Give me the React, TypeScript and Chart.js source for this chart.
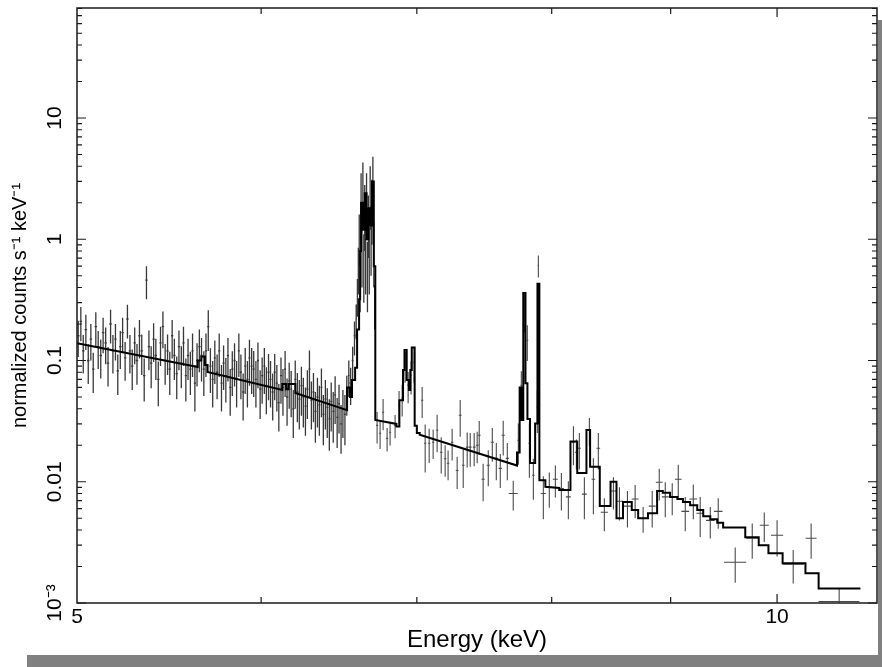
import React, { useEffect, useRef } from 'react';
import { Chart, registerables } from 'chart.js';

Chart.register(...registerables);

const FONT = "'Liberation Sans', Arial, Helvetica, sans-serif";

const xRange = [5, 11.04];
const yRange = [0.001, 80.8];
const xTickValues = [5, 10];
const xTickLabels = ['5', '10'];
const xMinorTickValues = [6, 7, 8, 9];
const yTickValues = [0.001, 0.01, 0.1, 1, 10];
const yTickLabels = ['10⁻³', '0.01', '0.1', '1', '10'];
const xTitle = 'Energy (keV)';
const yTitle = 'normalized counts s⁻¹ keV⁻¹';

// densely binned spectrum (keV, counts/s/keV, 1-sigma error)
const denseEnergy = [
  5.006, 5.019, 5.031, 5.044, 5.056, 5.069, 5.081, 5.094, 5.106, 5.119, 5.131, 5.144, 5.156, 5.169, 5.181, 5.194, 5.206, 5.219, 5.231, 5.244, 5.256, 5.269, 5.281, 5.294,
  5.306, 5.319, 5.331, 5.344, 5.356, 5.369, 5.381, 5.394, 5.406, 5.419, 5.431, 5.444, 5.456, 5.469, 5.481, 5.494, 5.506, 5.519, 5.531, 5.544, 5.556, 5.569, 5.581, 5.594,
  5.606, 5.619, 5.631, 5.644, 5.656, 5.669, 5.681, 5.694, 5.706, 5.719, 5.731, 5.744, 5.756, 5.769, 5.781, 5.794, 5.806, 5.819, 5.831, 5.844, 5.856, 5.869, 5.881, 5.894,
  5.906, 5.919, 5.931, 5.944, 5.956, 5.969, 5.981, 5.994, 6.006, 6.019, 6.031, 6.044, 6.056, 6.069, 6.081, 6.094, 6.106, 6.119, 6.131, 6.144, 6.156, 6.169, 6.181, 6.194,
  6.206, 6.219, 6.231, 6.244, 6.256, 6.269, 6.281, 6.294, 6.306, 6.319, 6.331, 6.344, 6.356, 6.369, 6.381, 6.394, 6.406, 6.419, 6.431, 6.444, 6.456, 6.469, 6.481, 6.494, 6.506, 6.519,
  6.531, 6.544, 6.556, 6.569, 6.581, 6.592, 6.600, 6.606, 6.612, 6.618, 6.624, 6.630, 6.636, 6.642, 6.648, 6.654, 6.660, 6.666, 6.672, 6.678, 6.684, 6.690, 6.696, 6.702, 6.708, 6.714,
];
const denseCounts = [
  0.16, 0.21, 0.12, 0.18, 0.10, 0.15, 0.085, 0.19, 0.13, 0.11, 0.17, 0.14, 0.095, 0.20, 0.12, 0.15, 0.082, 0.13, 0.17, 0.105, 0.22, 0.12, 0.09, 0.14,
  0.10, 0.16, 0.12, 0.075, 0.46, 0.13, 0.095, 0.15, 0.11, 0.07, 0.14, 0.19, 0.10, 0.12, 0.085, 0.16, 0.11, 0.078, 0.13, 0.095, 0.14, 0.075, 0.11, 0.085,
  0.12, 0.065, 0.10, 0.13, 0.11, 0.085, 0.12, 0.19, 0.09, 0.07, 0.105, 0.08, 0.12, 0.065, 0.095, 0.075, 0.11, 0.06, 0.085, 0.10, 0.07, 0.12, 0.08, 0.055,
  0.09, 0.07, 0.105, 0.09, 0.085, 0.07, 0.10, 0.058, 0.075, 0.09, 0.062, 0.08, 0.07, 0.055, 0.08, 0.065, 0.045, 0.075, 0.06, 0.085, 0.05, 0.068, 0.058, 0.04,
  0.07, 0.055, 0.048, 0.062, 0.05, 0.042, 0.058, 0.085, 0.047, 0.055, 0.038, 0.05, 0.043, 0.06, 0.036, 0.048, 0.041, 0.033, 0.046, 0.038, 0.052, 0.034, 0.044, 0.03, 0.04, 0.036,
  0.055, 0.075, 0.065, 0.10, 0.16, 0.22, 0.35, 0.6, 1.1, 0.5, 2.2, 1.0, 2.8, 0.7, 1.8, 0.9, 2.3, 0.6, 1.5, 0.8, 2.6, 1.2, 2.0, 3.2, 0.9, 0.3,
];
const denseErr = [
  0.053, 0.066, 0.042, 0.058, 0.036, 0.05, 0.031, 0.06, 0.045, 0.039, 0.055, 0.047, 0.034, 0.062, 0.042, 0.05, 0.03, 0.045, 0.055, 0.037, 0.068, 0.042, 0.033, 0.047,
  0.037, 0.056, 0.044, 0.029, 0.14, 0.047, 0.036, 0.053, 0.041, 0.028, 0.05, 0.064, 0.037, 0.044, 0.033, 0.056, 0.041, 0.03, 0.047, 0.036, 0.05, 0.029, 0.041, 0.033,
  0.047, 0.027, 0.039, 0.05, 0.043, 0.034, 0.047, 0.07, 0.036, 0.029, 0.041, 0.032, 0.047, 0.027, 0.038, 0.03, 0.043, 0.025, 0.034, 0.039, 0.029, 0.047, 0.032, 0.023,
  0.037, 0.029, 0.043, 0.037, 0.035, 0.029, 0.041, 0.025, 0.031, 0.037, 0.026, 0.033, 0.029, 0.023, 0.033, 0.027, 0.019, 0.031, 0.025, 0.035, 0.021, 0.028, 0.024, 0.017,
  0.03, 0.024, 0.021, 0.027, 0.022, 0.018, 0.025, 0.036, 0.02, 0.024, 0.017, 0.022, 0.019, 0.026, 0.016, 0.021, 0.018, 0.015, 0.02, 0.017, 0.022, 0.015, 0.019, 0.013, 0.017, 0.016,
  0.02, 0.025, 0.022, 0.03, 0.05, 0.07, 0.12, 0.25, 0.5, 0.25, 1.3, 0.6, 1.5, 0.4, 1.0, 0.55, 1.2, 0.35, 0.8, 0.45, 1.4, 0.7, 1.1, 1.6, 0.5, 0.12,
];

// coarsely binned spectrum above 6.72 keV
const sparseEnergy = [
  6.730, 6.750, 6.770, 6.797, 6.817, 6.851, 6.878, 6.899, 6.919, 6.940, 6.960, 6.981,
  7.037, 7.058, 7.086, 7.114, 7.142, 7.171, 7.199, 7.220, 7.249, 7.285, 7.307, 7.329, 7.358, 7.380, 7.409, 7.431, 7.446, 7.475, 7.513, 7.543, 7.573, 7.603, 7.625, 7.656,
  7.701, 7.740, 7.763, 7.786, 7.809, 7.825, 7.856, 7.887, 7.895, 7.934, 7.981, 8.029, 8.077, 8.133, 8.174, 8.198, 8.222, 8.263, 8.304, 8.337, 8.378,
  8.428, 8.504, 8.555, 8.623, 8.689, 8.758, 8.837, 8.899, 8.952, 9.014, 9.068, 9.131, 9.204, 9.267, 9.360, 9.434,
  9.594, 9.757, 9.874, 10.000, 10.161, 10.343, 10.634,
];
const sparseCounts = [
  0.0292, 0.0251, 0.0374, 0.0228, 0.0256, 0.0292, 0.0428, 0.0488, 0.0914, 0.0625, 0.0755, 0.0967,
  0.047, 0.0208, 0.0208, 0.0212, 0.0266, 0.0175, 0.0155, 0.0142, 0.0212, 0.0124, 0.0354, 0.0137, 0.0193, 0.0193, 0.0193, 0.020, 0.0242, 0.0105, 0.0137, 0.0212, 0.0156, 0.0129, 0.0242, 0.0156,
  0.0080, 0.022, 0.0625, 0.26, 0.147, 0.0208, 0.0113, 0.0412, 0.61, 0.0080, 0.0090, 0.0105, 0.0088, 0.0075, 0.0212, 0.0175, 0.0189, 0.0079, 0.0266, 0.0105, 0.0189,
  0.0056, 0.0084, 0.0069, 0.0063, 0.0072, 0.0050, 0.0063, 0.0099, 0.0075, 0.0075, 0.0105, 0.0057, 0.0072, 0.0055, 0.0048, 0.0057,
  0.00217, 0.00342, 0.00438, 0.00362, 0.00209, 0.00342, 0.00103,
];
const sparseErr = [
  0.0085, 0.0065, 0.0108, 0.005, 0.0057, 0.0064, 0.0132, 0.0143, 0.026, 0.018, 0.023, 0.031,
  0.0134, 0.0089, 0.0065, 0.0058, 0.0091, 0.0058, 0.0045, 0.0039, 0.0062, 0.0037, 0.0119, 0.0048, 0.0062, 0.006, 0.0059, 0.0058, 0.0075, 0.0036, 0.0045, 0.0066, 0.0053, 0.004, 0.0077, 0.0053,
  0.0022, 0.0082, 0.019, 0.09, 0.048, 0.01, 0.0042, 0.016, 0.126, 0.0031, 0.0029, 0.0031, 0.003, 0.0026, 0.0075, 0.0048, 0.0063, 0.003, 0.007, 0.0051, 0.0063,
  0.0017, 0.0025, 0.0021, 0.0021, 0.0022, 0.0012, 0.0021, 0.0029, 0.0024, 0.0022, 0.0033, 0.0018, 0.0023, 0.002, 0.0014, 0.0016,
  0.0007, 0.0011, 0.0012, 0.0012, 0.00064, 0.0011, 0.0003,
];
const sparseHalfWidth = [
  0.007, 0.007, 0.007, 0.007, 0.007, 0.008, 0.007, 0.007, 0.007, 0.007, 0.007, 0.007,
  0.008, 0.008, 0.008, 0.008, 0.008, 0.009, 0.009, 0.009, 0.009, 0.01, 0.01, 0.01, 0.01, 0.01, 0.01, 0.01, 0.01, 0.012, 0.012, 0.012, 0.012, 0.012, 0.012, 0.012,
  0.034, 0.008, 0.008, 0.008, 0.008, 0.008, 0.01, 0.006, 0.006, 0.02, 0.02, 0.02, 0.02, 0.02, 0.012, 0.012, 0.012, 0.02, 0.012, 0.015, 0.015,
  0.03, 0.03, 0.03, 0.03, 0.03, 0.03, 0.03, 0.03, 0.03, 0.03, 0.03, 0.035, 0.035, 0.035, 0.04, 0.04,
  0.105, 0.058, 0.044, 0.06, 0.106, 0.056, 0.215,
];

// folded model (histogram vertices)
const modelEnergy = [
  5.000, 5.635, 5.635, 5.655, 5.655, 5.675, 5.675, 5.690, 5.690, 6.127, 6.127, 6.150, 6.150, 6.165, 6.165, 6.207, 6.207, 6.533,
  6.533, 6.552, 6.552, 6.565, 6.565, 6.585, 6.585, 6.598, 6.598, 6.611, 6.611, 6.618, 6.618, 6.624, 6.624, 6.636, 6.636, 6.648,
  6.648, 6.660, 6.660, 6.672, 6.672, 6.684, 6.684, 6.696, 6.696, 6.708, 6.708, 6.718, 6.718, 6.860, 6.860, 6.880, 6.880, 6.905,
  6.905, 6.915, 6.915, 6.930, 6.930, 6.945, 6.945, 6.955, 6.955, 6.965, 6.965, 6.985, 6.985, 7.000, 7.000, 7.020, 7.020, 7.730,
  7.730, 7.750, 7.750, 7.765, 7.765, 7.778, 7.778, 7.795, 7.795, 7.810, 7.810, 7.830, 7.830, 7.870, 7.870, 7.888, 7.888, 7.903,
  7.903, 7.950, 7.950, 8.060, 8.060, 8.150, 8.150, 8.205, 8.205, 8.280, 8.280, 8.310, 8.310, 8.390, 8.390, 8.480, 8.480, 8.530,
  8.530, 8.585, 8.585, 8.660, 8.660, 8.715, 8.715, 8.800, 8.800, 8.880, 8.880, 8.930, 8.930, 8.995, 8.995, 9.060, 9.060, 9.110,
  9.110, 9.175, 9.175, 9.240, 9.240, 9.295, 9.295, 9.360, 9.360, 9.425, 9.425, 9.480, 9.480, 9.690, 9.690, 9.820, 9.820, 9.915,
  9.915, 10.055, 10.055, 10.285, 10.285, 10.420, 10.420, 10.860,
];
const modelCounts = [
  0.139, 0.0884, 0.100, 0.100, 0.108, 0.108, 0.092, 0.092, 0.0804, 0.0571, 0.064, 0.064, 0.058, 0.058, 0.064, 0.064, 0.054, 0.039,
  0.060, 0.060, 0.050, 0.050, 0.069, 0.069, 0.087, 0.087, 0.18, 0.18, 0.32, 0.32, 0.8, 0.8, 2.0, 2.0, 1.2, 1.2,
  2.4, 2.4, 1.0, 1.0, 1.8, 1.8, 1.3, 1.3, 3.0, 3.0, 0.6, 0.6, 0.0323, 0.0300, 0.0286, 0.0286, 0.047, 0.047,
  0.0835, 0.0835, 0.122, 0.122, 0.069, 0.069, 0.057, 0.057, 0.0835, 0.0835, 0.128, 0.128, 0.029, 0.029, 0.0253, 0.0253, 0.0244, 0.0136,
  0.0174, 0.0174, 0.060, 0.060, 0.0323, 0.0323, 0.36, 0.36, 0.065, 0.065, 0.033, 0.033, 0.0143, 0.0143, 0.0303, 0.0303, 0.43, 0.43,
  0.0103, 0.0103, 0.0091, 0.0089, 0.00855, 0.00855, 0.0215, 0.0215, 0.0118, 0.0118, 0.0267, 0.0267, 0.0133, 0.0133, 0.0063, 0.0063, 0.0100, 0.0100,
  0.0050, 0.0050, 0.0068, 0.0068, 0.00585, 0.00585, 0.0050, 0.0050, 0.0055, 0.0055, 0.0084, 0.0084, 0.0081, 0.0081, 0.0075, 0.0075, 0.0072, 0.0072,
  0.0068, 0.0068, 0.0064, 0.0064, 0.00585, 0.00585, 0.0052, 0.0052, 0.0049, 0.0049, 0.0046, 0.0046, 0.0042, 0.0042, 0.00349, 0.00349, 0.0030, 0.0030,
  0.00257, 0.00257, 0.00213, 0.00213, 0.00176, 0.00176, 0.00132, 0.00132,
];

export default function App() {
  const canvasRef = useRef<HTMLCanvasElement>(null);

  useEffect(() => {
    const canvas = canvasRef.current;
    if (!canvas) return;

    const densePts = denseEnergy.map((e, i) => {
      const prev = i > 0 ? denseEnergy[i - 1] : e - (denseEnergy[1] - denseEnergy[0]);
      const next = i < denseEnergy.length - 1 ? denseEnergy[i + 1] : e + (e - denseEnergy[i - 1]);
      return { x: e, y: denseCounts[i], err: denseErr[i], hw: (next - prev) / 4 };
    });
    const sparsePts = sparseEnergy.map((e, i) => ({
      x: e, y: sparseCounts[i], err: sparseErr[i], hw: sparseHalfWidth[i],
    }));
    const modelPts = modelEnergy.map((e, i) => ({ x: e, y: modelCounts[i] }));

    const errorBarPlugin = {
      id: 'errorBars',
      beforeDatasetsDraw(chart: any) {
        const { ctx, chartArea, scales } = chart;
        const xs = scales.x;
        const ys = scales.y;
        ctx.save();
        ctx.beginPath();
        ctx.rect(chartArea.left, chartArea.top, chartArea.right - chartArea.left, chartArea.bottom - chartArea.top);
        ctx.clip();
        chart.data.datasets.forEach((ds: any) => {
          if (!ds.errorBars) return;
          ctx.strokeStyle = ds.errorColor;
          ctx.lineWidth = ds.errorWidth;
          ctx.beginPath();
          ds.data.forEach((p: any) => {
            const px = xs.getPixelForValue(p.x);
            const py = ys.getPixelForValue(p.y);
            const hi = ys.getPixelForValue(p.y + p.err);
            const loV = p.y - p.err;
            const lo = loV > 0 ? ys.getPixelForValue(loV) : chartArea.bottom + 5;
            ctx.moveTo(px, hi);
            ctx.lineTo(px, lo);
            ctx.moveTo(xs.getPixelForValue(p.x - p.hw), py);
            ctx.lineTo(xs.getPixelForValue(p.x + p.hw), py);
          });
          ctx.stroke();
        });
        ctx.restore();
      },
    };

    const framePlugin = {
      id: 'frame',
      afterDraw(chart: any) {
        const { ctx, chartArea, scales } = chart;
        const { left, right, top, bottom } = chartArea;
        const xs = scales.x;
        const ys = scales.y;
        ctx.save();
        ctx.strokeStyle = '#1a1a1a';
        ctx.lineWidth = 1.5;
        ctx.strokeRect(left, top, right - left, bottom - top);
        ctx.lineWidth = 1.2;
        ctx.beginPath();
        const xt: [number, number][] = [
          ...xTickValues.map((v) => [v, 9] as [number, number]),
          ...xMinorTickValues.map((v) => [v, 6] as [number, number]),
        ];
        xt.forEach(([v, len]) => {
          const px = xs.getPixelForValue(v);
          if (px <= left + 1 || px >= right - 1) return;
          ctx.moveTo(px, bottom);
          ctx.lineTo(px, bottom - len);
          ctx.moveTo(px, top);
          ctx.lineTo(px, top + len);
        });
        yTickValues.forEach((dec) => {
          for (let m = 1; m <= 9; m++) {
            const v = dec * m;
            if (v < yRange[0] * 0.999 || v > yRange[1]) continue;
            const py = ys.getPixelForValue(v);
            const len = m === 1 ? 9 : 5;
            ctx.moveTo(left, py);
            ctx.lineTo(left + len, py);
            ctx.moveTo(right, py);
            ctx.lineTo(right - len, py);
          }
        });
        ctx.stroke();
        ctx.restore();
      },
    };

    const chart = new Chart(canvas, {
      type: 'scatter',
      data: {
        datasets: [
          {
            label: 'model',
            data: modelPts,
            showLine: true,
            borderColor: '#000',
            borderWidth: 2,
            pointRadius: 0,
            fill: false,
            tension: 0,
            order: 0,
          } as any,
          {
            label: 'data (fine bins)',
            data: densePts,
            showLine: false,
            pointRadius: 0,
            errorBars: true,
            errorColor: '#383838',
            errorWidth: 1.3,
            order: 1,
          } as any,
          {
            label: 'data (coarse bins)',
            data: sparsePts,
            showLine: false,
            pointRadius: 0,
            errorBars: true,
            errorColor: '#4a4a4a',
            errorWidth: 1.1,
            order: 2,
          } as any,
        ],
      },
      options: {
        animation: false,
        responsive: false,
        devicePixelRatio: 1,
        events: [],
        layout: { padding: { left: 0, top: 8, right: 1, bottom: 0 } },
        plugins: { legend: { display: false }, tooltip: { enabled: false } },
        scales: {
          x: {
            type: 'logarithmic',
            position: 'bottom',
            min: xRange[0],
            max: xRange[1],
            grid: { display: false, drawTicks: false },
            border: { display: false },
            ticks: {
              autoSkip: false,
              minRotation: 0,
              maxRotation: 0,
              padding: 2,
              color: '#000',
              font: { family: FONT, size: 21 },
              callback: (_v: any, i: number) => xTickLabels[i] ?? '',
            },
            afterBuildTicks: (s: any) => {
              s.ticks = xTickValues.map((v) => ({ value: v }));
            },
            afterFit: (s: any) => {
              s.height = 52;
              s.paddingLeft = 0;
              s.paddingRight = 0;
            },
            title: {
              display: true,
              text: xTitle,
              color: '#000',
              font: { family: FONT, size: 24 },
              padding: { top: 0, bottom: 0 },
            },
          } as any,
          y: {
            type: 'logarithmic',
            position: 'left',
            min: yRange[0],
            max: yRange[1],
            grid: { display: false, drawTicks: false },
            border: { display: false },
            ticks: {
              autoSkip: false,
              minRotation: 90,
              maxRotation: 90,
              crossAlign: 'center',
              padding: 1,
              color: '#000',
              font: { family: FONT, size: 21 },
              callback: (_v: any, i: number) => yTickLabels[i] ?? '',
            },
            afterBuildTicks: (s: any) => {
              s.ticks = yTickValues.map((v) => ({ value: v }));
            },
            afterFit: (s: any) => {
              s.width = 77;
              s.paddingTop = 0;
              s.paddingBottom = 0;
            },
            title: {
              display: true,
              text: yTitle,
              color: '#000',
              font: { family: FONT, size: 20 },
              padding: { top: 8, bottom: 0 },
            },
          } as any,
        },
      },
      plugins: [errorBarPlugin, framePlugin],
    });

    return () => chart.destroy();
  }, []);

  return (
    <div style={{ position: 'fixed', left: 0, top: 0, width: 882, height: 667, background: '#fff', overflow: 'hidden' }}>
      <div style={{ position: 'absolute', left: 27, top: 20, width: 855, height: 647, background: '#808080' }} />
      <div style={{ position: 'absolute', left: 0, top: 0, width: 878, height: 655, background: '#fff' }} />
      <canvas
        ref={canvasRef}
        width={878}
        height={655}
        style={{ position: 'absolute', left: 0, top: 0, width: 878, height: 655, display: 'block' }}
      />
    </div>
  );
}
